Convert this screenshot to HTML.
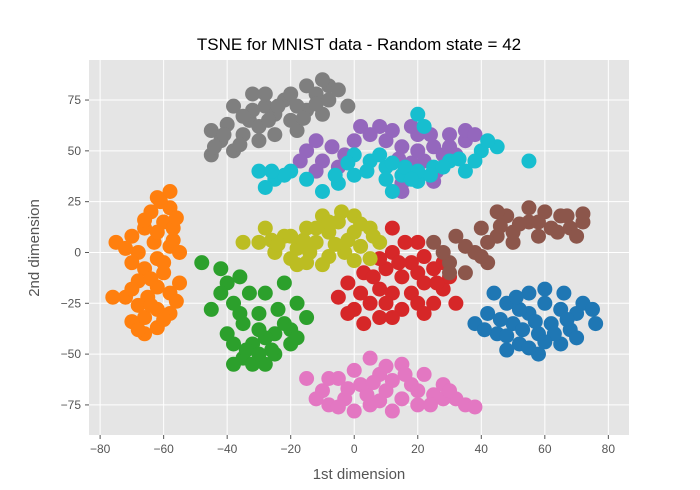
<!DOCTYPE html>
<html><head><meta charset="utf-8"><style>
body{margin:0;background:#fff;}
svg{display:block;font-family:"Liberation Sans","DejaVu Sans",sans-serif;}
</style></head><body>
<svg id="chart" width="700" height="490" viewBox="0 0 700 490">
<rect x="89" y="60" width="540" height="375" fill="#e5e5e5"/>
<g id="grid"></g>
<g id="marks"></g>
<g id="ticks"></g>
<text x="359" y="50" text-anchor="middle" font-size="17" fill="#000">TSNE for MNIST data - Random state = 42</text>
<text x="359" y="479" text-anchor="middle" font-size="15" fill="#555">1st dimension</text>
<text transform="translate(39,248) rotate(-90)" text-anchor="middle" font-size="15" fill="#555">2nd dimension</text>
</svg>
<script>
const xTicks=[-80,-60,-40,-20,0,20,40,60,80];
const yTicks=[-75,-50,-25,0,25,50,75];
const clusterNames=['digit-0','digit-1','digit-2','digit-3','digit-4','digit-5','digit-6','digit-7','digit-8','digit-9'];
const clusterColors=['#1f77b4','#ff7f0e','#2ca02c','#d62728','#9467bd','#8c564b','#e377c2','#7f7f7f','#bcbd22','#17becf'];
const blue=[[38,-35],[42,-30],[45,-40],[48,-25],[50,-35],[52,-45],[55,-20],[55,-30],[58,-40],[60,-25],[62,-35],[65,-45],[65,-28],[68,-38],[70,-30],[72,-25],[75,-28],[58,-50],[48,-48],[60,-18],[44,-20],[52,-28],[66,-20],[46,-33],[53,-38],[57,-34],[63,-40],[70,-42],[60,-44],[51,-22],[76,-35],[41,-38],[55,-47],[67,-33],[48,-41]];
const orange=[[-58,30],[-62,27],[-58,22],[-64,20],[-60,15],[-66,12],[-57,12],[-70,8],[-75,5],[-63,5],[-58,3],[-68,0],[-62,-3],[-66,-8],[-60,-10],[-68,-14],[-62,-17],[-58,-20],[-65,-22],[-72,-22],[-76,-22],[-68,-26],[-62,-28],[-58,-30],[-66,-32],[-70,-34],[-62,-37],[-66,-40],[-55,0],[-55,-15],[-70,-5],[-61,25],[-56,17],[-62,10],[-72,2],[-60,-5],[-64,-13],[-70,-18],[-64,-26],[-60,-33],[-68,-38],[-56,-24],[-57,6],[-66,16]];
const green=[[-45,-28],[-40,-15],[-38,-25],[-35,-35],[-32,-45],[-30,-30],[-28,-20],[-25,-40],[-22,-35],[-20,-45],[-18,-25],[-28,-55],[-35,-52],[-38,-55],[-32,-55],[-40,-40],[-42,-8],[-22,-15],[-15,-32],[-48,-5],[-25,-50],[-33,-20],[-28,-42],[-36,-30],[-30,-38],[-24,-28],[-20,-38],[-34,-48],[-26,-48],[-38,-45],[-30,-50],[-42,-20],[-18,-42],[-36,-12]];
const red=[[-2,-15],[3,-10],[0,-28],[5,-25],[8,-18],[10,-8],[12,0],[15,-12],[18,-5],[20,5],[22,-15],[25,-25],[28,-18],[15,-28],[8,-32],[18,-20],[25,-8],[30,-12],[12,12],[-5,-22],[32,-25],[3,-35],[12,-20],[2,-20],[6,-12],[10,-25],[14,-5],[20,-10],[22,-2],[26,-15],[20,-25],[16,5],[8,-3],[-2,-30],[28,-5],[12,-32],[22,-30]];
const purple=[[-15,50],[-10,45],[-5,42],[-12,55],[2,62],[8,62],[10,55],[15,52],[20,58],[25,52],[30,58],[35,55],[28,48],[22,45],[18,44],[15,30],[25,35],[35,60],[-7,52],[12,60],[0,55],[-12,40],[-17,45],[5,58],[18,62],[24,58],[30,52],[20,50],[14,46],[26,40],[32,48],[-3,48],[15,34],[38,58]];
const brown=[[25,5],[30,-5],[32,8],[38,0],[40,12],[45,8],[48,18],[50,10],[55,15],[58,8],[62,12],[65,18],[68,12],[72,15],[70,8],[55,22],[42,-5],[35,-10],[60,20],[45,20],[28,0],[35,3],[42,5],[52,14],[58,15],[64,10],[67,18],[72,19],[50,5],[40,-2],[30,-10],[46,13]];
const pink=[[-15,-62],[-10,-68],[-5,-62],[-3,-72],[2,-65],[5,-75],[8,-60],[10,-68],[12,-78],[15,-55],[18,-65],[20,-75],[22,-60],[25,-70],[28,-65],[32,-72],[35,-75],[15,-72],[0,-78],[-8,-75],[5,-52],[-12,-72],[-8,-62],[-2,-67],[4,-70],[8,-73],[12,-63],[16,-60],[20,-68],[24,-75],[28,-72],[30,-68],[38,-76],[10,-56],[0,-58],[-5,-76],[6,-64]];
const gray=[[-45,60],[-42,55],[-38,50],[-40,63],[-35,58],[-30,55],[-33,65],[-28,72],[-32,78],[-25,68],[-22,75],[-20,65],[-15,70],[-12,78],[-8,82],[-15,82],[-10,68],[-5,80],[-45,48],[-25,58],[-18,60],[-38,72],[-2,72],[-41,58],[-36,53],[-30,62],[-27,65],[-32,70],[-24,72],[-18,72],[-12,73],[-8,75],[-10,85],[-20,78],[-28,78],[-44,52],[-35,67],[-16,66]];
const olive=[[-30,5],[-25,0],[-22,8],[-18,2],[-15,-5],[-12,5],[-8,10],[-5,15],[0,10],[-3,0],[2,3],[5,-3],[-8,-2],[-20,-3],[-10,18],[0,18],[5,12],[-15,12],[-28,12],[-35,5],[8,5],[-26,6],[-20,8],[-14,0],[-10,-6],[-6,4],[-2,6],[2,14],[-4,20],[-12,12],[-16,6],[-24,4],[0,-4],[6,8],[-8,15],[-18,-6]];
const cyan=[[-30,40],[-25,36],[-20,40],[-15,36],[-5,34],[0,38],[0,48],[5,45],[10,42],[15,38],[20,35],[25,42],[30,45],[35,40],[40,50],[45,52],[20,68],[22,62],[55,45],[-10,30],[12,30],[-28,32],[-22,38],[-26,40],[-2,44],[4,40],[8,48],[12,44],[16,42],[20,40],[24,38],[28,42],[33,46],[38,45],[42,55],[-6,38],[18,36],[10,36]];
const clusters=[blue,orange,green,red,purple,brown,pink,gray,olive,cyan];

const L=89,R=629,T=60,B=435,xmin=-83.5,xmax=86.5,ymin=-89.8,ymax=94.7;
const sx=v=>L+(v-xmin)/(xmax-xmin)*(R-L);
const sy=v=>B-(v-ymin)/(ymax-ymin)*(B-T);
const NS='http://www.w3.org/2000/svg';
const grid=document.getElementById('grid'),ticks=document.getElementById('ticks'),marks=document.getElementById('marks');
function mk(tag,attrs,parent){const e=document.createElementNS(NS,tag);for(const k in attrs)e.setAttribute(k,attrs[k]);parent.appendChild(e);return e;}
xTicks.forEach(v=>{
  const x=sx(v);
  const g=mk('line',{x1:x,x2:x,y1:T,y2:B,stroke:'#fff','stroke-width':1},grid);
  
  
  const t=mk('line',{x1:x,x2:x,y1:B,y2:B+4,stroke:'#555'},ticks);
  
  
  const l=mk('text',{x:x,y:B+18,'text-anchor':'middle','font-size':12,fill:'#555'},ticks);
  l.textContent=(v<0?'\u2212'+(-v):v);
  
  
});
yTicks.forEach(v=>{
  const y=sy(v);
  const g=mk('line',{x1:L,x2:R,y1:y,y2:y,stroke:'#fff','stroke-width':1},grid);
  
  
  const t=mk('line',{x1:L-4,x2:L,y1:y,y2:y,stroke:'#555'},ticks);
  
  
  const l=mk('text',{x:L-8,y:y+4,'text-anchor':'end','font-size':12,fill:'#555'},ticks);
  l.textContent=(v<0?'\u2212'+(-v):v);
  
  
});
clusters.forEach((pts,i)=>{
  const g=mk('g',{fill:clusterColors[i]},marks);
  
  
  pts.forEach(p=>{
    const c=mk('circle',{cx:sx(p[0]),cy:sy(p[1]),r:7.5},g);
    
    
  });
});
</script>
</body></html>
